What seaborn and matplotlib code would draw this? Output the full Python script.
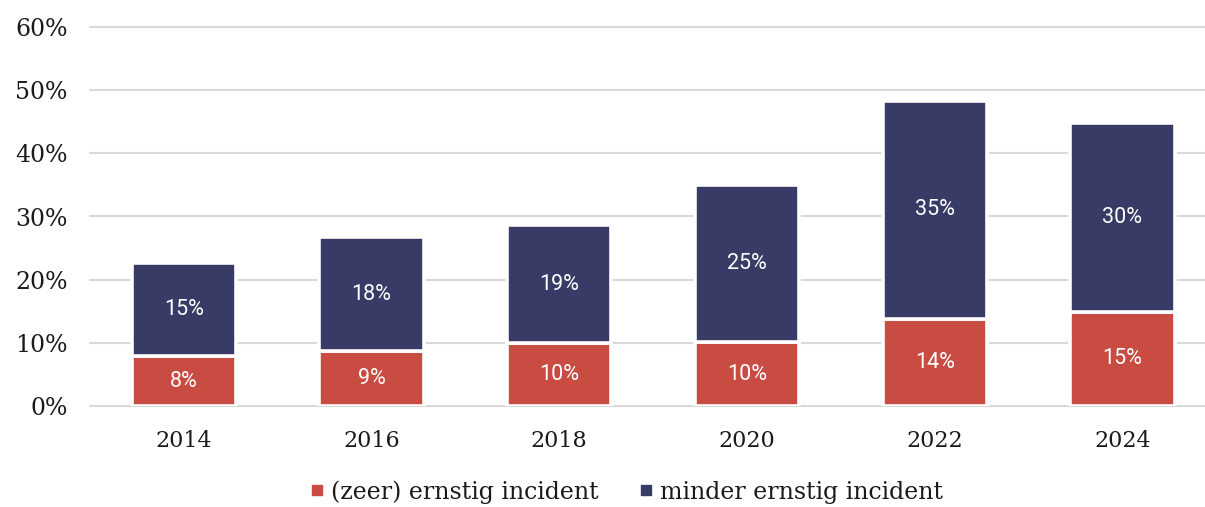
import matplotlib
matplotlib.use("Agg")
import matplotlib.pyplot as plt
import seaborn as sns
import pandas as pd
from matplotlib.lines import Line2D

years = ["2014", "2016", "2018", "2020", "2022", "2024"]
ernstig = [7.9, 8.7, 10.0, 10.1, 13.8, 14.9]
minder = [14.7, 18.0, 18.6, 24.9, 34.5, 29.9]
ernstig_labels = ["8%", "9%", "10%", "10%", "14%", "15%"]
minder_labels = ["15%", "18%", "19%", "25%", "35%", "30%"]
y_ticks = [0, 10, 20, 30, 40, 50, 60]
y_tick_labels = ["0%", "10%", "20%", "30%", "40%", "50%", "60%"]
legend_names = ["(zeer) ernstig incident", "minder ernstig incident"]

red = "#C94C43"
navy = "#383B66"

df = pd.DataFrame({"jaar": years, "ernstig": ernstig, "minder": minder})

sns.set_style("white")
plt.rcParams["font.family"] = ["DejaVu Serif"]

fig = plt.figure(figsize=(12.05, 5.07), dpi=100)
ax = fig.add_axes([90 / 1205, 101 / 507, 1 - 90 / 1205, 379 / 507])

lw = 2.6
sns.barplot(data=df, x="jaar", y="ernstig", color=red, width=0.556,
            edgecolor="white", linewidth=lw, saturation=1, ax=ax, zorder=3)
sns.barplot(data=df, x="jaar", y="minder", bottom=df["ernstig"].values, color=navy,
            width=0.556, edgecolor="white", linewidth=lw, saturation=1, ax=ax, zorder=3)

for cont, labs in zip(ax.containers, [ernstig_labels, minder_labels]):
    ax.bar_label(cont, labels=labs, label_type="center", color="white",
                 fontsize=15.5, family=["Roboto", "DejaVu Sans"])

ax.set_xlim(-0.5, 5.44)
ax.set_ylim(0, 60)
ax.set_yticks(y_ticks)
ax.set_yticklabels(y_tick_labels)
ax.yaxis.grid(True, color="#d9d9d9", linewidth=1.5)
for gl in ax.get_ygridlines():
    gl.set_clip_on(False)
ax.set_axisbelow(True)
for s in ax.spines.values():
    s.set_visible(False)
ax.tick_params(axis="y", length=0, pad=16, labelsize=17, labelcolor="#1a1a1a")
ax.tick_params(axis="x", length=0, pad=17, labelsize=16, labelcolor="#1a1a1a")
ax.set_xlabel("")
ax.set_ylabel("")

handles = [Line2D([0], [0], marker="s", linestyle="none", markersize=7,
                  markerfacecolor=c, markeredgecolor=c) for c in (red, navy)]
fig.legend(handles, legend_names, loc="center", bbox_to_anchor=(0.518, 0.03),
           ncol=2, frameon=False, fontsize=17, handletextpad=0.1,
           columnspacing=1.5, handlelength=1.0, labelcolor="#1a1a1a")

fig.savefig("out.png", dpi=100)
